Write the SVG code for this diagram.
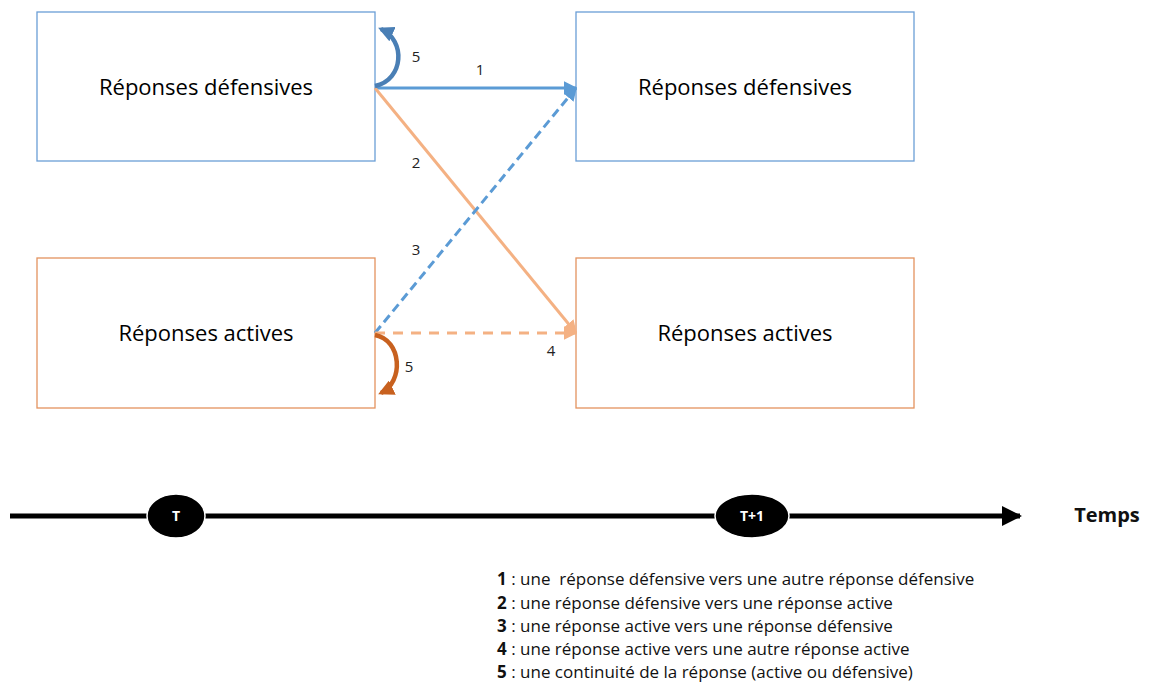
<svg xmlns="http://www.w3.org/2000/svg" width="1149" height="684" viewBox="0 0 1149 684">
<style>
.box{fill:#fff;stroke-width:1.3}
.def{stroke:#6a9ed6}
.act{stroke:#e3935f}
.lbl{font-family:"Open Sans","Liberation Sans",sans-serif;font-size:22px;fill:#000;text-anchor:middle}
.num{font-family:"Open Sans","Liberation Sans",sans-serif;font-size:15px;fill:#222;text-anchor:middle}
.leg{font-family:"Open Sans","Liberation Sans",sans-serif;font-size:17px;fill:#111}
</style>
<defs>
<marker id="hb" viewBox="0 0 10 10" refX="9" refY="5" markerWidth="4.5" markerHeight="4.5" orient="auto" markerUnits="strokeWidth"><path d="M0,0 L10,5 L0,10 z" fill="#5b9bd5"/></marker>
<marker id="ho" viewBox="0 0 10 10" refX="9" refY="5" markerWidth="4.5" markerHeight="4.5" orient="auto" markerUnits="strokeWidth"><path d="M0,0 L10,5 L0,10 z" fill="#f4b183"/></marker>
<marker id="hk" viewBox="0 0 10 10" refX="9" refY="5" markerWidth="4.5" markerHeight="4" orient="auto" markerUnits="strokeWidth"><path d="M0,0 L10,5 L0,10 z" fill="#000"/></marker>
<marker id="hdb" viewBox="0 0 10 10" refX="8" refY="5" markerWidth="3.5" markerHeight="3.5" orient="auto" markerUnits="strokeWidth"><path d="M0,0 L10,5 L0,10 z" fill="#4a7fb5"/></marker>
<marker id="hdo" viewBox="0 0 10 10" refX="8" refY="5" markerWidth="3.5" markerHeight="3.5" orient="auto" markerUnits="strokeWidth"><path d="M0,0 L10,5 L0,10 z" fill="#c8611f"/></marker>
</defs>
<rect width="1149" height="684" fill="#fff"/>
<g id="node-def-t"><rect class="box def" x="37" y="12" width="338" height="149"/><text class="lbl" x="206" y="95">Réponses défensives</text></g>
<g id="node-def-t1"><rect class="box def" x="576" y="12" width="338" height="149"/><text class="lbl" x="745" y="95">Réponses défensives</text></g>
<g id="node-act-t"><rect class="box act" x="37" y="258" width="338" height="150"/><text class="lbl" x="206" y="341">Réponses actives</text></g>
<g id="node-act-t1"><rect class="box act" x="576" y="258" width="338" height="150"/><text class="lbl" x="745" y="341">Réponses actives</text></g>
<g id="connectors" fill="none">
<line x1="375" y1="88" x2="576" y2="88" stroke="#5b9bd5" stroke-width="3" marker-end="url(#hb)"/>
<line x1="375" y1="88" x2="576" y2="333" stroke="#f4b183" stroke-width="3" marker-end="url(#ho)"/>
<line x1="375" y1="333" x2="576" y2="88" stroke="#5b9bd5" stroke-width="3" stroke-dasharray="9,5" marker-end="url(#hb)"/>
<line x1="375" y1="333" x2="576" y2="333" stroke="#f4b183" stroke-width="3" stroke-dasharray="10,8" marker-end="url(#ho)"/>
<path d="M375,86 C404,80 406,40 381,29" stroke="#4a7fb5" stroke-width="4.5" marker-end="url(#hdb)"/>
<path d="M375,335 C402,340 404,382 381,393" stroke="#c8611f" stroke-width="4.5" marker-end="url(#hdo)"/>
<text class="num" x="416" y="62">5</text>
<text class="num" x="480" y="75">1</text>
<text class="num" x="416" y="168">2</text>
<text class="num" x="416" y="255">3</text>
<text class="num" x="551" y="356">4</text>
<text class="num" x="409" y="372">5</text>
</g>
<g id="timeline">
<line x1="10" y1="516" x2="1020" y2="516" stroke="#000" stroke-width="5" marker-end="url(#hk)"/>
<ellipse cx="176" cy="516" rx="29" ry="22" fill="#000" stroke="#fff" stroke-width="1.5"/>
<text x="176" y="521" font-family="Open Sans, Liberation Sans, sans-serif" font-size="14" font-weight="bold" fill="#fff" text-anchor="middle">T</text>
<ellipse cx="752" cy="516" rx="37" ry="22" fill="#000" stroke="#fff" stroke-width="1.5"/>
<text x="752" y="521" font-family="Open Sans, Liberation Sans, sans-serif" font-size="14" font-weight="bold" fill="#fff" text-anchor="middle">T+1</text>
<text x="1107" y="522" font-family="Open Sans, Liberation Sans, sans-serif" font-size="20" font-weight="bold" fill="#111" text-anchor="middle">Temps</text>
</g>
<g id="legend">
<text class="leg" x="497" y="585"><tspan font-weight="bold">1</tspan> : une&#160; réponse défensive vers une autre réponse défensive</text>
<text class="leg" x="497" y="609"><tspan font-weight="bold">2</tspan> : une réponse défensive vers une réponse active</text>
<text class="leg" x="497" y="632"><tspan font-weight="bold">3</tspan> : une réponse active vers une réponse défensive</text>
<text class="leg" x="497" y="655"><tspan font-weight="bold">4</tspan> : une réponse active vers une autre réponse active</text>
<text class="leg" x="497" y="678"><tspan font-weight="bold">5</tspan> : une continuité de la réponse (active ou défensive)</text>
</g>
</svg>
